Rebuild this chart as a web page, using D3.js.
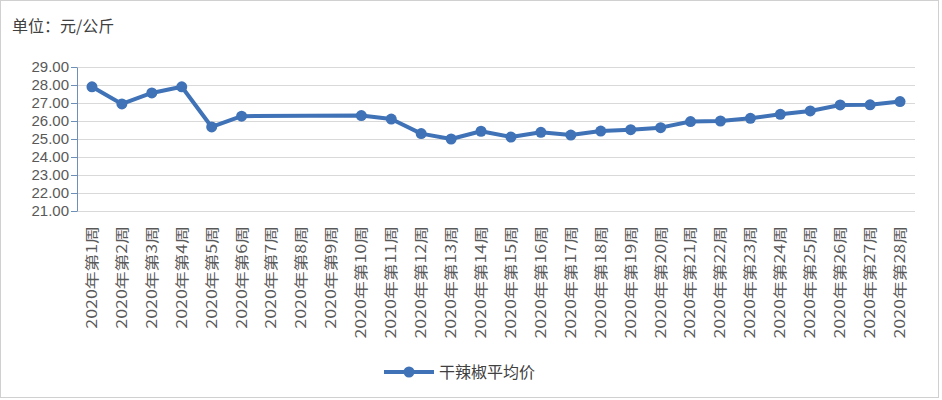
<!DOCTYPE html>
<html>
<head>
<meta charset="utf-8">
<script src="https://cdn.jsdelivr.net/npm/d3@7"></script>
<style>
  html, body { margin: 0; padding: 0; background: #fff; }
  svg { display: block; font-family: "Noto Sans CJK SC", "Microsoft YaHei", sans-serif; }
</style>
</head>
<body>
<svg id="chart" width="942" height="400"></svg>
<script>
var width = 942, height = 400

// weeks of 2020 and the average price of dried chilli (yuan/kg); weeks 7-9 have no data
var weeks = d3.range(1, 29).map(function(i) { return '2020年第' + i + '周' })
var prices = [27.9, 26.95, 27.56, 27.9, 25.67, 26.27, null, null, null, 26.3,
              26.11, 25.3, 25.0, 25.43, 25.11, 25.37, 25.22, 25.44, 25.52, 25.63,
              25.97, 26.0, 26.15, 26.37, 26.56, 26.89, 26.9, 27.08]
var yTicks = [21, 22, 23, 24, 25, 26, 27, 28, 29]
var seriesName = '干辣椒平均价'
var unitLabel = '单位：元/公斤'

var blue = '#3f72b6'
var margin = {left: 77, right: 27, top: 67, bottom: 189}

var svg = d3.select('svg#chart')

// outer frame
svg.append('rect')
  .attr('x', 0.5).attr('y', 0.5)
  .attr('width', width - 4).attr('height', height - 3)
  .attr('fill', '#fff').attr('stroke', '#d0d0d0')

var x = d3.scaleBand()
  .domain(weeks)
  .range([margin.left, width - margin.right])

var y = d3.scaleLinear()
  .domain([21, 29])
  .range([height - margin.bottom, margin.top])

// unit title
svg.append('text')
  .attr('x', 12).attr('y', 32)
  .attr('fill', '#404040')
  .style('font-size', '16px')
  .text(unitLabel)

// gridlines
svg.append('g')
  .selectAll('line')
  .data(yTicks)
  .enter().append('line')
    .attr('x1', margin.left).attr('x2', width - margin.right)
    .attr('y1', function(d) { return Math.round(y(d)) + 0.5 })
    .attr('y2', function(d) { return Math.round(y(d)) + 0.5 })
    .attr('stroke', '#d9d9d9')

// y axis
var yAxis = svg.append('g')
  .attr('transform', 'translate(' + margin.left + ',0)')
  .call(d3.axisLeft(y).tickValues(yTicks).tickFormat(d3.format('.2f')).tickSize(6).tickSizeOuter(0))
yAxis.select('.domain').attr('stroke', '#6d8fb8')
yAxis.selectAll('.tick line').attr('stroke', '#6d8fb8')
yAxis.selectAll('.tick text')
  .attr('fill', '#595959')
  .attr('x', -8)
  .style('font-family', '"Liberation Sans", Arial, sans-serif')
  .style('font-size', '15px')

// x labels, rotated and stretched along the text like the original
svg.append('g')
  .selectAll('text')
  .data(weeks)
  .enter().append('text')
    .attr('transform', function(d) {
      return 'translate(' + (x(d) + x.bandwidth() / 2) + ',' + (height - margin.bottom + 15) + ') rotate(-90) scale(1.27,1)'
    })
    .attr('text-anchor', 'end')
    .attr('dy', '0.35em')
    .attr('fill', '#595959')
    .style('font-size', '14px')
    .text(function(d) { return d })

// line and markers
var pts = weeks.map(function(w, i) { return {week: w, value: prices[i]} })
  .filter(function(d) { return d.value != null })

var line = d3.line()
  .x(function(d) { return x(d.week) + x.bandwidth() / 2 })
  .y(function(d) { return y(d.value) })

svg.append('path')
  .datum(pts)
  .attr('d', line)
  .attr('fill', 'none')
  .attr('stroke', blue)
  .attr('stroke-width', 4)
  .attr('stroke-linejoin', 'round')

svg.append('g')
  .selectAll('circle')
  .data(pts)
  .enter().append('circle')
    .attr('cx', function(d) { return x(d.week) + x.bandwidth() / 2 })
    .attr('cy', function(d) { return y(d.value) })
    .attr('r', 5.5)
    .attr('fill', blue)

// legend
var lg = svg.append('g').attr('transform', 'translate(384,372)')
lg.append('line')
  .attr('x1', 0).attr('x2', 50)
  .attr('stroke', blue).attr('stroke-width', 4)
lg.append('circle')
  .attr('cx', 25).attr('r', 5.5).attr('fill', blue)
lg.append('text')
  .attr('x', 55).attr('dy', '0.35em')
  .attr('fill', '#404040')
  .style('font-size', '16px')
  .text(seriesName)
</script>
</body>
</html>
